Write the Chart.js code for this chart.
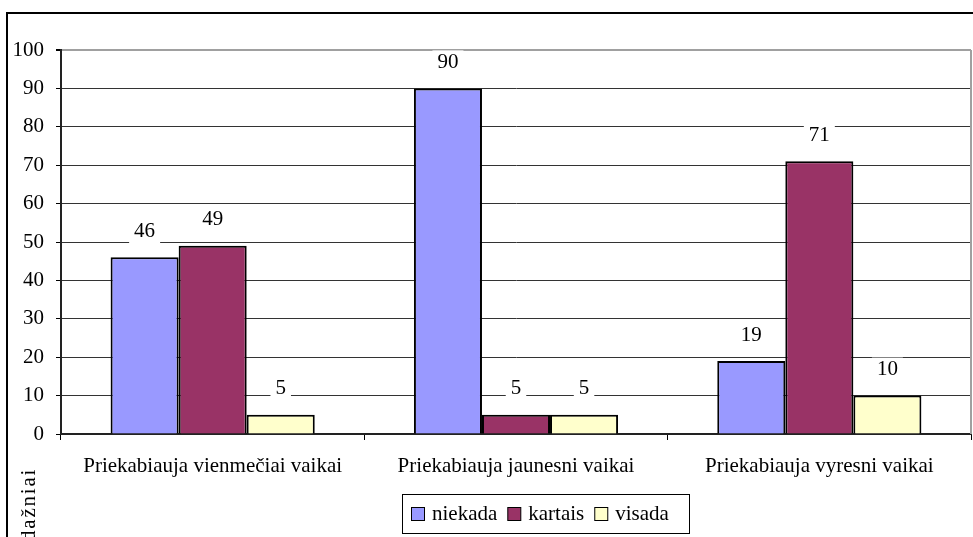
<!DOCTYPE html>
<html>
<head>
<meta charset="utf-8">
<script src="https://cdn.jsdelivr.net/npm/chart.js@4"></script>
<style>
  body { margin: 0; background: #fff; }
  #wrap { width: 973px; height: 537px; position: relative; }
</style>
</head>
<body>
<div id="wrap"><canvas id="myChart"></canvas></div>
<script>
const categories = [
  "Priekabiauja vienmečiai vaikai",
  "Priekabiauja jaunesni vaikai",
  "Priekabiauja vyresni vaikai",
];
const seriesNames = ["niekada", "kartais", "visada"];
const niekada = [46, 90, 19];
const kartais = [49, 5, 71];
const visada = [5, 5, 10];
const yTicks = [0, 10, 20, 30, 40, 50, 60, 70, 80, 90, 100];
const axisTitle = "dažniai";

const colors = ["#9999FF", "#993366", "#FFFFCC"];
const FONT = "'Liberation Serif', 'Times New Roman', 'DejaVu Serif', serif";

Chart.defaults.color = "#000";
Chart.defaults.font.family = FONT;
Chart.defaults.font.size = 21;

// data labels with white box behind
const valueLabels = {
  id: "valueLabels",
  afterDatasetsDraw(chart) {
    const c = chart.ctx;
    c.save();
    c.font = "21px " + FONT;
    c.textAlign = "center";
    c.textBaseline = "middle";
    chart.data.datasets.forEach((ds, i) => {
      chart.getDatasetMeta(i).data.forEach((bar, j) => {
        const txt = String(ds.data[j]);
        const w = c.measureText(txt).width + 10;
        const cy = bar.y - 26;
        c.fillStyle = "#fff";
        c.fillRect(bar.x - w / 2, cy - 12, w, 24);
        c.fillStyle = "#000";
        c.fillText(txt, bar.x, cy);
      });
    });
    c.restore();
  },
};

// frame, right plot border, y title, legend
const extras = {
  id: "extras",
  afterDraw(chart) {
    const c = chart.ctx;
    const a = chart.chartArea;
    c.save();
    c.strokeStyle = "#a0a0a0";
    c.lineWidth = 2;
    c.beginPath();
    c.moveTo(a.right, a.top);
    c.lineTo(a.right, a.bottom);
    c.stroke();

    c.strokeStyle = "#000";
    c.lineWidth = 2;
    c.strokeRect(7, 13, 1000, 1000);

    // y title (cut off at the bottom like the original)
    c.save();
    c.translate(35, 541);
    c.rotate(-Math.PI / 2);
    c.font = "21px " + FONT;
    c.letterSpacing = "1.8px";
    c.textAlign = "left";
    c.textBaseline = "alphabetic";
    c.fillStyle = "#000";
    c.fillText(axisTitle, 0, 0);
    c.restore();

    // legend
    c.lineWidth = 1;
    c.strokeStyle = "#000";
    c.strokeRect(402.5, 494.5, 287, 39);
    c.font = "21px " + FONT;
    c.textBaseline = "middle";
    c.textAlign = "left";
    let x = 411;
    chart.data.datasets.forEach((ds) => {
      c.fillStyle = ds.backgroundColor;
      c.fillRect(x + 0.5, 507.5, 13, 13);
      c.strokeRect(x + 0.5, 507.5, 13, 13);
      c.fillStyle = "#000";
      c.fillText(ds.label, x + 21, 514);
      x += 21 + c.measureText(ds.label).width + 10;
    });
    c.restore();
  },
};

const data = {
  labels: categories,
  datasets: [niekada, kartais, visada].map((vals, i) => ({
    label: seriesNames[i],
    data: vals,
    backgroundColor: colors[i],
    borderColor: "#000",
    borderWidth: 2,
    categoryPercentage: 0.673,
    barPercentage: 1,
  })),
};

const options = {
  responsive: true,
  maintainAspectRatio: false,
  animation: false,
  layout: { padding: { top: 50, right: 2, left: 0, bottom: 0 } },
  plugins: {
    legend: { display: false },
    tooltip: { enabled: false },
  },
  scales: {
    x: {
      offset: true,
      grid: {
        offset: true,
        drawOnChartArea: false,
        drawTicks: true,
        tickLength: 6,
        color: "#000",
      },
      border: { display: true, color: "#222", width: 2 },
      ticks: { padding: 14, maxRotation: 0, autoSkip: false },
      afterFit(s) { s.height = 103; },
    },
    y: {
      min: 0,
      max: 100,
      afterBuildTicks(s) { s.ticks = yTicks.map((v) => ({ value: v })); },
      grid: {
        color: (ctx) => (ctx.tick && ctx.tick.value === 100 ? "#a0a0a0" : "#333"),
        lineWidth: (ctx) => (ctx.tick && ctx.tick.value === 100 ? 2 : 1),
        tickColor: "#000",
        tickLength: 5,
      },
      border: { display: true, color: "#222", width: 2 },
      ticks: { padding: 12 },
      afterFit(s) { s.width = 61; },
    },
  },
};

const ctx = document.getElementById("myChart").getContext("2d");
const myChart = new Chart(ctx, {
  type: "bar",
  data: data,
  options: options,
  plugins: [valueLabels, extras],
});
</script>
</body>
</html>
